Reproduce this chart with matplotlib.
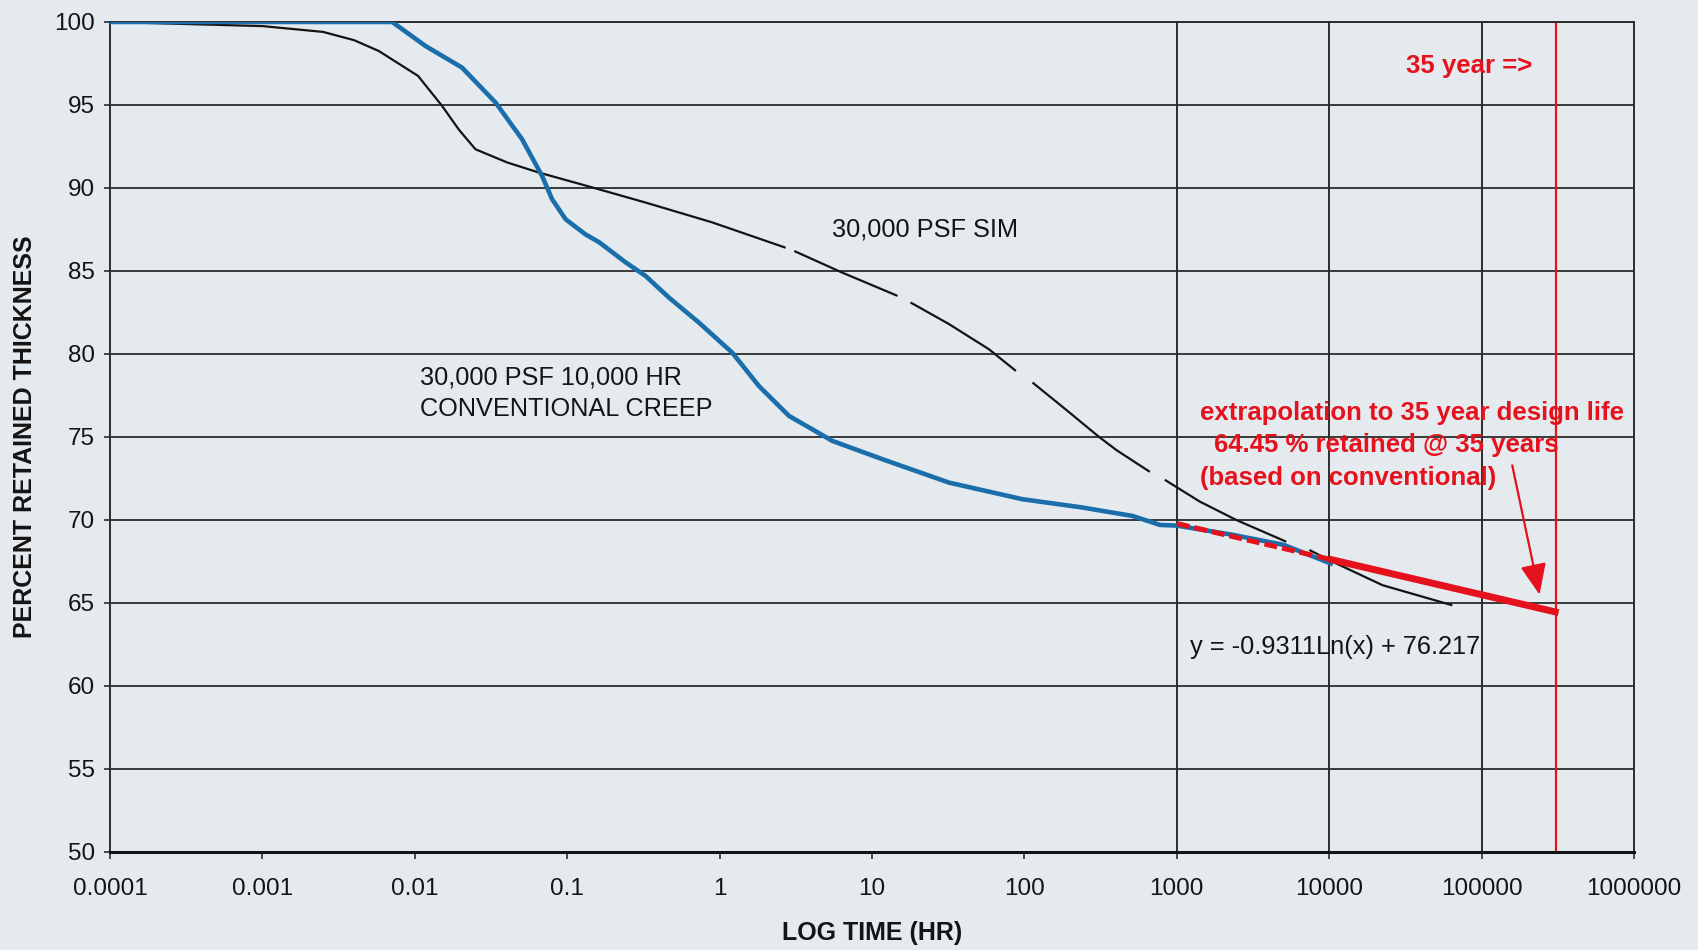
import numpy as np
import matplotlib
matplotlib.use("Agg")
import matplotlib.pyplot as plt
from matplotlib.ticker import FixedLocator, FixedFormatter, NullLocator

plt.rcParams['font.family'] = ['Liberation Sans', 'DejaVu Sans']

# 30,000 psf, 10,000 hr conventional creep test
creep_hours = [0.0001, 0.001, 0.003, 0.00708, 0.00746, 0.01175, 0.0204, 0.0339,
               0.0506, 0.0684, 0.0796, 0.0977, 0.132, 0.162, 0.2415, 0.3266,
               0.4645, 0.731, 1.21, 1.81, 2.85, 5.50, 11.7, 32.0, 97.0, 240,
               513, 776, 1000, 2344, 5012, 10233]
creep_pct = [100.0, 100.0, 100.0, 100.0, 99.86, 98.55, 97.25, 95.14,
             92.93, 90.72, 89.32, 88.11, 87.2, 86.73, 85.52, 84.7,
             83.4, 81.89, 80.08, 78.07, 76.27, 74.76, 73.66, 72.25, 71.25, 70.75,
             70.24, 69.7, 69.66, 69.1, 68.5, 67.38]

# 30,000 psf stepped isothermal (SIM) curve; NaN = break in the record
sim_hours = [0.0001, 0.001, 0.0025, 0.004, 0.0058, 0.0105, 0.0151, 0.0195,
             0.025, 0.0405, 0.065, 0.145, 0.327, 0.891, 2.71,
             np.nan, 3.09, 6.38, 14.7,
             np.nan, 17.9, 32.0, 58.6, 87.9,
             np.nan, 113, 186, 309, 403, 665,
             np.nan, 834, 1413, 2455, 5224,
             np.nan, 7413, 10544, 22387, 64270]
sim_pct = [100.0, 99.75, 99.4, 98.9, 98.25, 96.75, 94.94, 93.5,
           92.33, 91.53, 90.93, 90.04, 89.12, 87.93, 86.4,
           np.nan, 86.2, 84.9, 83.5,
           np.nan, 83.1, 81.8, 80.28, 78.98,
           np.nan, 78.28, 76.67, 75.0, 74.2, 72.9,
           np.nan, 72.42, 71.11, 70.0, 68.69,
           np.nan, 68.19, 67.48, 66.07, 64.86]

# Logarithmic trendline fitted to the conventional creep data
trend_slope = -0.9311
trend_intercept = 76.217
trend_start_hr = 1000
fit_end_hr = 10000
trend_end_hr = 320000
design_life_years = 35
hours_per_year = 8760

x_ticks = [1e-4, 1e-3, 1e-2, 1e-1, 1, 10, 100, 1000, 10000, 100000, 1000000]
x_tick_labels = ['0.0001', '0.001', '0.01', '0.1', '1', '10', '100', '1000',
                 '10000', '100000', '1000000']
y_ticks = [50, 55, 60, 65, 70, 75, 80, 85, 90, 95, 100]
grid_hours = [1000, 10000, 100000]

PAPER = '#e5eaee'
INK = '#141414'
GRID = '#2c2c2c'
BLUE = '#1a6fab'
RED = '#e5121d'


def trend(h):
    return trend_slope * np.log(h) + trend_intercept


fig = plt.figure(figsize=(16.98, 9.5), dpi=100, facecolor=PAPER)
ax = fig.add_axes([0.0648, 0.1032, 0.8975, 0.8737], facecolor=PAPER)
ax.set_xscale('log')
ax.set_xlim(1e-4, 1e6)
ax.set_ylim(50, 100)

# grid
ax.xaxis.set_major_locator(FixedLocator(x_ticks))
ax.xaxis.set_major_formatter(FixedFormatter(x_tick_labels))
ax.xaxis.set_minor_locator(NullLocator())
ax.yaxis.set_major_locator(FixedLocator(y_ticks))
ax.yaxis.grid(True, color=GRID, lw=1.3, zorder=1)
for gh in grid_hours:
    ax.axvline(gh, color=GRID, lw=1.4, zorder=1)

for side in ['left', 'right', 'top']:
    ax.spines[side].set_color(GRID)
    ax.spines[side].set_linewidth(1.4)
ax.spines['bottom'].set_color(INK)
ax.spines['bottom'].set_linewidth(2.2)

ax.tick_params(axis='x', which='major', direction='out', length=5, width=1.2,
               color=GRID, pad=14, labelsize=17.5, labelcolor=INK)
ax.tick_params(axis='y', which='major', direction='out', length=4, width=1.2,
               color=GRID, pad=7, labelsize=17.5, labelcolor=INK)

# curves
ax.plot(sim_hours, sim_pct, color=INK, lw=1.6, zorder=3, solid_capstyle='butt')
ax.plot(creep_hours, creep_pct, color=BLUE, lw=3.3, zorder=4, solid_joinstyle='round')

# trendline: dashed over the data range, solid for the extrapolation
h_fit = np.geomspace(trend_start_hr, fit_end_hr, 50)
h_ext = np.geomspace(fit_end_hr, trend_end_hr, 50)
ax.plot(h_fit, trend(h_fit), color=RED, lw=3.6, ls=(0, (2.6, 1.0)), zorder=5)
ax.plot(h_ext, trend(h_ext), color=RED, lw=5.0, zorder=5, solid_capstyle='butt')

# design life marker
life_hr = design_life_years * hours_per_year
ax.axvline(life_hr, color=RED, lw=1.6, zorder=2)
retained = trend(life_hr)

ax.text(32000, 97.33, f'{design_life_years} year =>', color=RED, fontsize=18.5,
        fontweight='bold', ha='left', va='center', zorder=6)
ax.text(1413, 76.45, f'extrapolation to {design_life_years} year design life',
        color=RED, fontsize=18.5, fontweight='bold', ha='left', va='center', zorder=6)
ax.text(1746, 74.5, f'{retained:.2f} % retained @ {design_life_years} years',
        color=RED, fontsize=18.5, fontweight='bold', ha='left', va='center', zorder=6)
ax.text(1413, 72.53, '(based on conventional)', color=RED, fontsize=18.5,
        fontweight='bold', ha='left', va='center', zorder=6)
ax.annotate('', xy=(240000, 65.5), xytext=(158900, 73.29),
            arrowprops=dict(arrowstyle='-|>,head_length=0.95,head_width=0.4',
                            mutation_scale=20, color=RED, lw=1.6,
                            shrinkA=0, shrinkB=0), zorder=6)

# series labels
ax.text(5.48, 87.47, '30,000 PSF SIM', color=INK, fontsize=18.3,
        ha='left', va='center', zorder=6)
ax.text(0.0108, 78.6, '30,000 PSF 10,000 HR', color=INK, fontsize=18.2,
        ha='left', va='center', zorder=6)
ax.text(0.0108, 76.7, 'CONVENTIONAL CREEP', color=INK, fontsize=18.2,
        ha='left', va='center', zorder=6)
ax.text(1216, 62.35, f'y = {trend_slope}Ln(x) + {trend_intercept}', color=INK,
        fontsize=18.3, ha='left', va='center', zorder=6)

ax.set_xlabel('LOG TIME (HR)', fontsize=18, fontweight='bold', color=INK, va='center')
ax.xaxis.set_label_coords(0.5, -0.098)
ax.set_ylabel('PERCENT RETAINED THICKNESS', fontsize=18, fontweight='bold',
              color=INK, va='center')
ax.yaxis.set_label_coords(-0.0555, 0.5)

fig.savefig('out.png', dpi=100, facecolor=PAPER)
